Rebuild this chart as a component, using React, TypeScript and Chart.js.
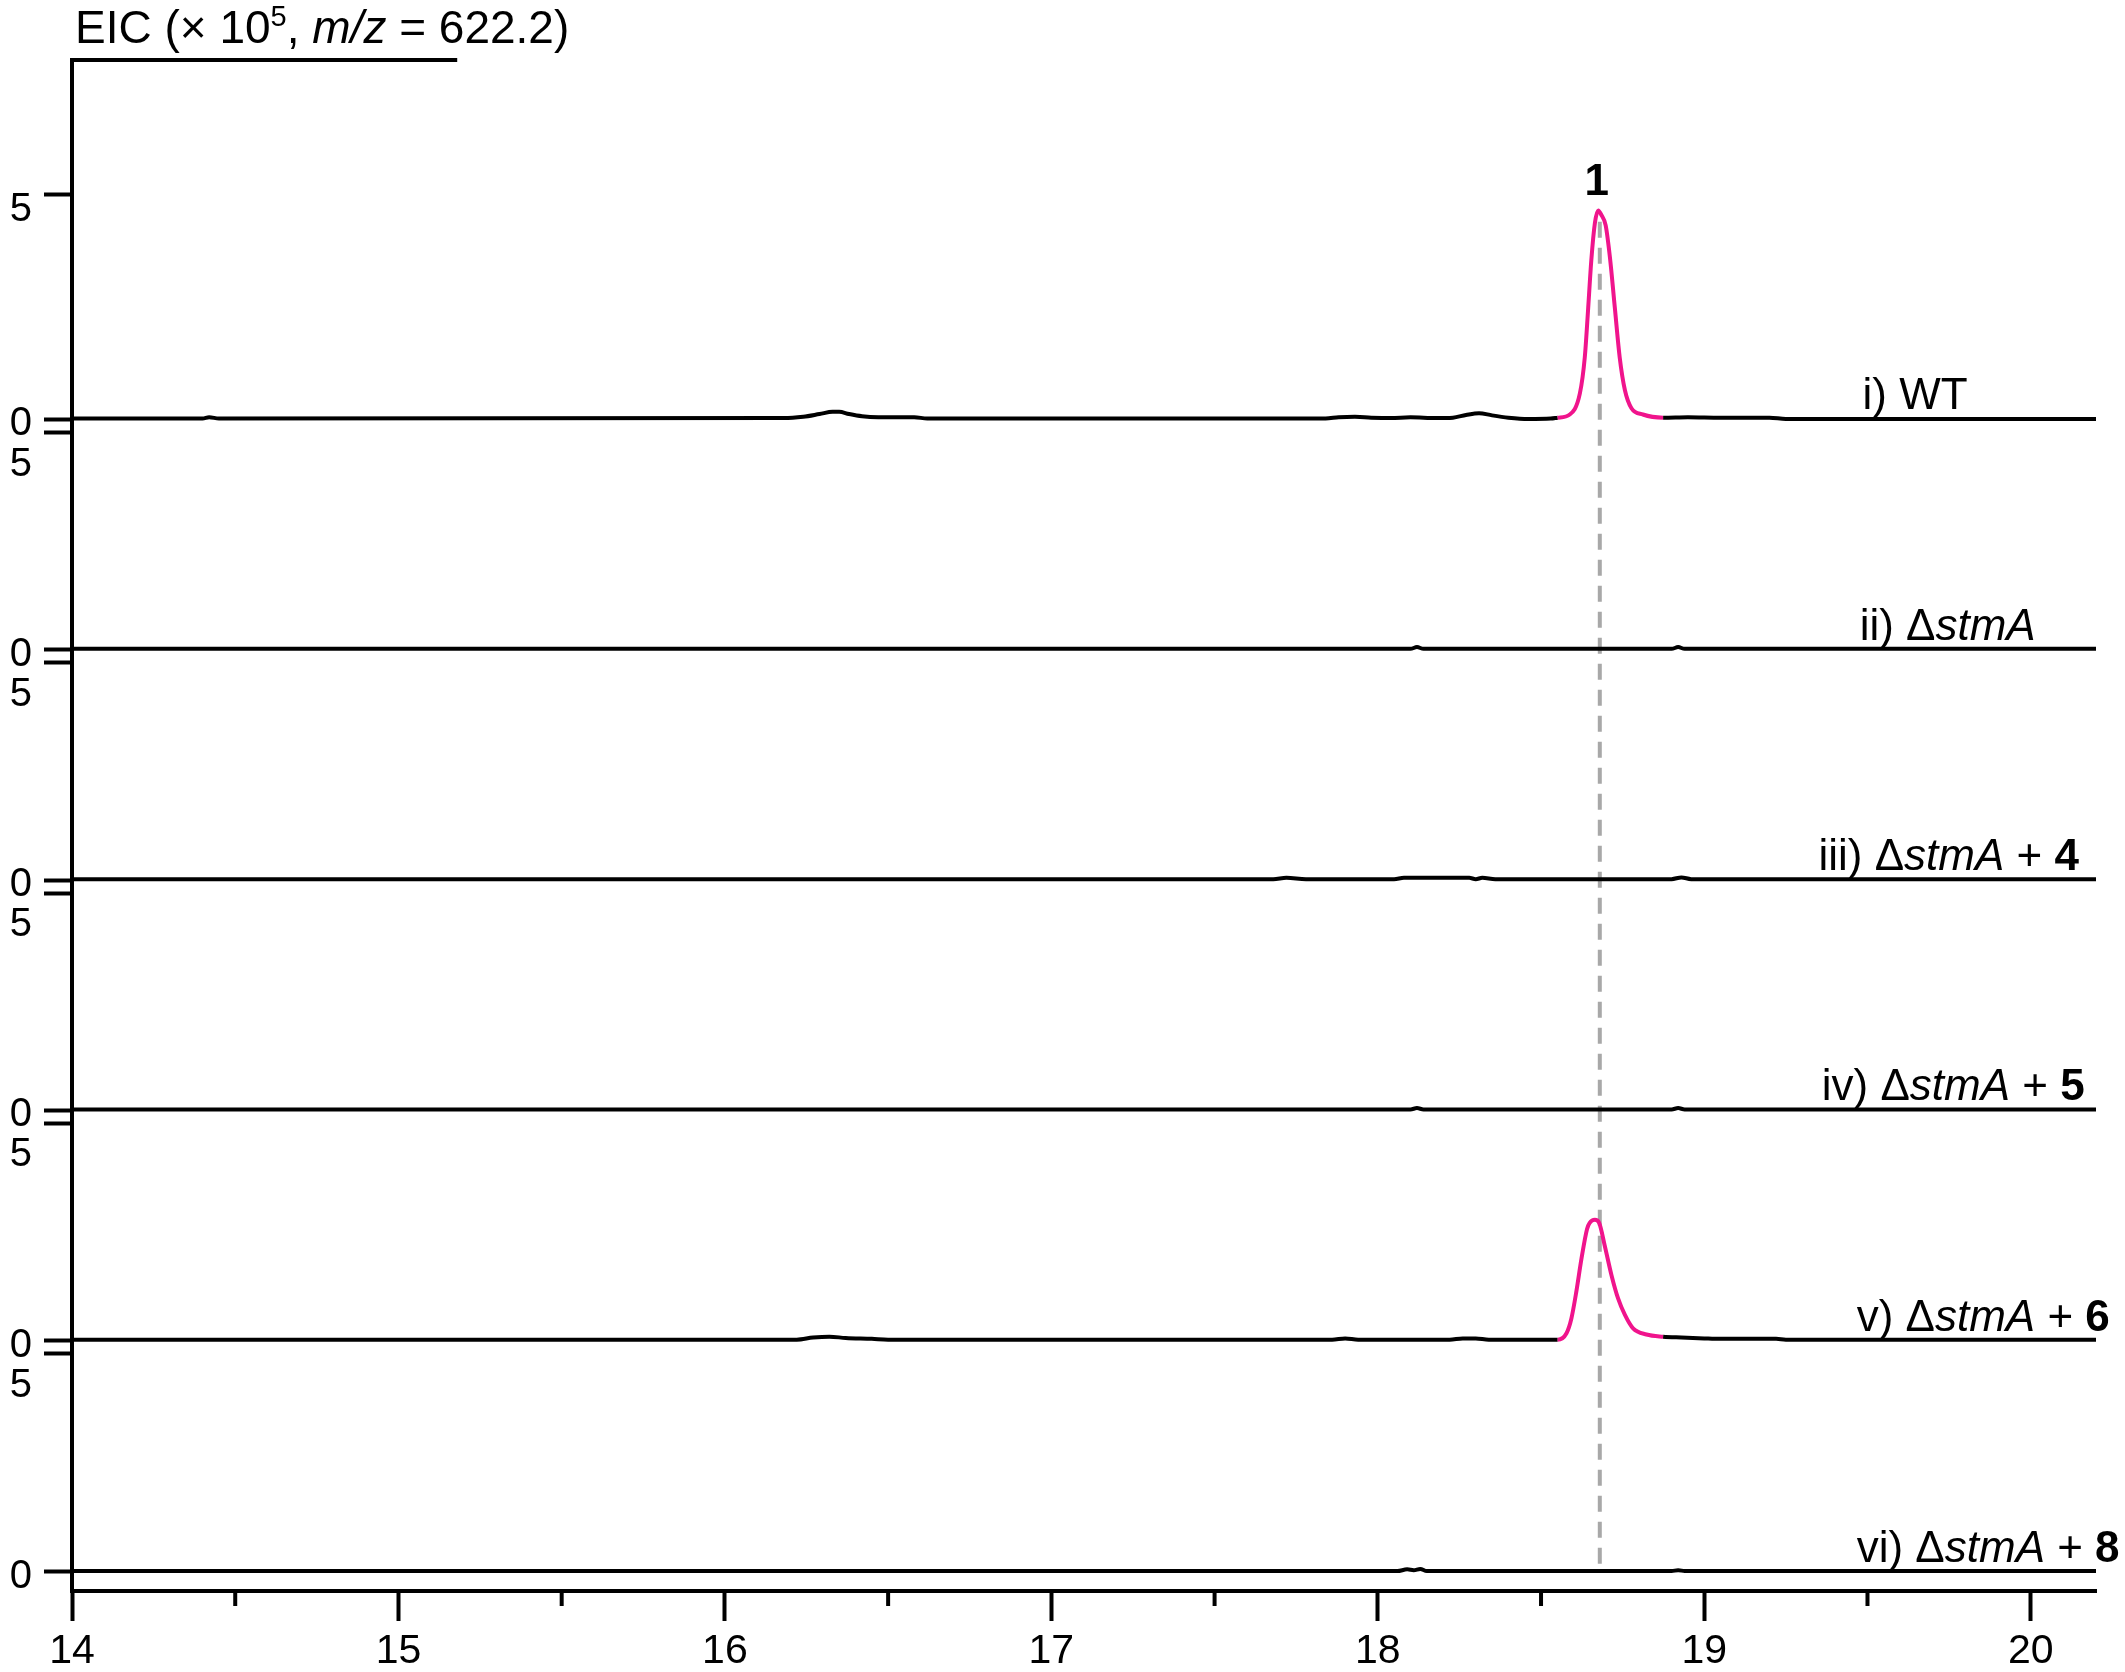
import React, { useEffect, useRef } from 'react';
import { Chart, registerables } from 'chart.js';

Chart.register(...registerables);

const FONT = '"Liberation Sans", Arial, Helvetica, sans-serif';
const PINK = '#F0148C';

// ---- axis values ----
const xMin = 14;
const xMax = 20.2;
const xMajorTicks = [14, 15, 16, 17, 18, 19, 20];
const xMinorTicks = [14.5, 15.5, 16.5, 17.5, 18.5, 19.5];
const yTickValues = [0, 5];

// ---- trace i) WT ----
const wtTime = [14.0, 14.4, 14.42, 14.45, 16.18, 16.24, 16.29, 16.33, 16.35, 16.38, 16.42, 16.47, 16.58, 16.62, 17.84, 17.88, 17.93, 17.98, 18.04, 18.1, 18.18, 18.23, 18.27, 18.31, 18.35, 18.4, 18.46, 18.53, 18.551, 18.588, 18.619, 18.634, 18.644, 18.654, 18.665, 18.675, 18.685, 18.698, 18.711, 18.726, 18.741, 18.757, 18.777, 18.812, 18.874, 18.95, 19.05, 19.2, 19.25, 20.2];
const wtIntensity = [0.02, 0.02, 0.05, 0.02, 0.03, 0.06, 0.12, 0.17, 0.17, 0.12, 0.07, 0.05, 0.05, 0.02, 0.02, 0.05, 0.06, 0.04, 0.03, 0.05, 0.03, 0.04, 0.1, 0.14, 0.09, 0.04, 0.01, 0.02, 0.04, 0.11, 0.58, 1.38, 2.43, 3.54, 4.37, 4.65, 4.55, 4.32, 3.61, 2.49, 1.38, 0.65, 0.25, 0.11, 0.04, 0.05, 0.04, 0.04, 0.01, 0.01];

// ---- trace ii) ΔstmA ----
const stmATime = [14.0, 18.1, 18.12, 18.14, 18.9, 18.92, 18.94, 20.2];
const stmAIntensity = [0.02, 0.02, 0.06, 0.02, 0.02, 0.06, 0.02, 0.02];

// ---- trace iii) ΔstmA + 4 ----
const plus4Time = [14.0, 17.68, 17.72, 17.78, 18.05, 18.08, 18.28, 18.3, 18.32, 18.36, 18.9, 18.93, 18.96, 20.2];
const plus4Intensity = [0.02, 0.02, 0.05, 0.02, 0.02, 0.05, 0.05, 0.02, 0.05, 0.02, 0.02, 0.06, 0.02, 0.02];

// ---- trace iv) ΔstmA + 5 ----
const plus5Time = [14.0, 18.1, 18.12, 18.14, 18.9, 18.92, 18.94, 20.2];
const plus5Intensity = [0.02, 0.02, 0.05, 0.02, 0.02, 0.05, 0.02, 0.02];

// ---- trace v) ΔstmA + 6 ----
const plus6Time = [14.0, 16.22, 16.27, 16.32, 16.37, 16.45, 16.5, 17.86, 17.9, 17.94, 18.22, 18.26, 18.3, 18.34, 18.551, 18.578, 18.593, 18.608, 18.624, 18.641, 18.649, 18.665, 18.678, 18.695, 18.716, 18.736, 18.757, 18.782, 18.823, 18.874, 18.93, 19.0, 19.05, 19.22, 19.25, 20.2];
const plus6Intensity = [0.02, 0.02, 0.07, 0.09, 0.06, 0.04, 0.02, 0.02, 0.05, 0.02, 0.02, 0.05, 0.05, 0.02, 0.02, 0.17, 0.51, 1.12, 1.89, 2.57, 2.71, 2.78, 2.71, 2.19, 1.5, 0.97, 0.59, 0.28, 0.14, 0.09, 0.07, 0.05, 0.04, 0.04, 0.02, 0.02];

// ---- trace vi) ΔstmA + 8 ----
const plus8Time = [14.0, 18.06, 18.09, 18.11, 18.13, 18.15, 18.9, 18.92, 18.94, 20.2];
const plus8Intensity = [0.02, 0.02, 0.06, 0.04, 0.07, 0.02, 0.02, 0.04, 0.02, 0.02];

// ---- labels ----
const labelPrefix = ['i) WT', 'ii) ', 'iii) ', 'iv) ', 'v) ', 'vi) '];
const labelStrain = ['', 'stmA', 'stmA', 'stmA', 'stmA', 'stmA'];
const labelCompound = ['', '', '4', '5', '6', '8'];
const peakLabel = '1';
const peakRetentionTime = 18.68;
const pinkRanges: (number[] | null)[] = [[18.55, 18.875], null, null, null, [18.55, 18.875], null];

// layout (not data)
const traceTimes = [wtTime, stmATime, plus4Time, plus5Time, plus6Time, plus8Time];
const traceValues = [wtIntensity, stmAIntensity, plus4Intensity, plus5Intensity, plus6Intensity, plus8Intensity];
const axisIds = ['yi', 'yii', 'yiii', 'yiv', 'yv', 'yvi'];
const panelMin = [-0.145, -0.15, -0.15, -0.15, -0.15, -0.436];
const panelMax = [8.0, 5.15, 5.15, 5.15, 5.15, 5.15];
const panelWeight = [365.5, 230, 230, 230, 230, 243.6];
const labelStartTime = [19.485, 19.476, 19.35, 19.36, 19.467, 19.467];
const LABEL_SIZE = 44;

function makeYAxis(i: number) {
  const top = i === 0;
  return {
    type: 'linear',
    position: 'left',
    stack: 'eic',
    stackWeight: panelWeight[i],
    min: panelMin[i],
    max: panelMax[i],
    afterBuildTicks: (s: any) => {
      s.ticks = yTickValues.map((v) => ({ value: v }));
    },
    afterFit: (s: any) => {
      s.width = 72;
    },
    border: { display: true, color: '#000', width: 4 },
    grid: { drawOnChartArea: false, drawTicks: true, tickLength: 28, tickWidth: 4, tickColor: '#000' },
    ticks: {
      color: '#000',
      padding: 12,
      autoSkip: false,
      labelOffset: 5,
      font: (ctx: any) => ({
        family: FONT,
        size: 40,
        lineHeight: ctx.tick && ctx.tick.value === 5 ? (top ? '20px' : '27px') : 1.2,
      }),
      callback: (v: any) => (v === 5 ? (top ? ['', '5'] : ['', '', '5']) : String(v)),
    },
  };
}

const decorPlugin = {
  id: 'decor',
  beforeDatasetsDraw(chart: any) {
    const ctx = chart.ctx;
    const xs = chart.scales.x;
    const px = xs.getPixelForValue(peakRetentionTime);
    const top = chart.scales.yi.getPixelForValue(4.4);
    const bottom = chart.scales.yvi.getPixelForValue(-0.02);
    ctx.save();
    ctx.strokeStyle = '#A8A8A8';
    ctx.lineWidth = 4;
    ctx.setLineDash([16, 10]);
    ctx.beginPath();
    ctx.moveTo(px, top);
    ctx.lineTo(px, bottom);
    ctx.stroke();
    ctx.restore();
  },
  afterDraw(chart: any) {
    const ctx = chart.ctx;
    const xs = chart.scales.x;
    const area = chart.chartArea;
    ctx.save();
    // minor x ticks
    ctx.strokeStyle = '#000';
    ctx.lineWidth = 4;
    xMinorTicks.forEach((v) => {
      const p = xs.getPixelForValue(v);
      ctx.beginPath();
      ctx.moveTo(p, area.bottom);
      ctx.lineTo(p, area.bottom + 15);
      ctx.stroke();
    });
    // top bar
    ctx.beginPath();
    ctx.moveTo(area.left - 2, area.top);
    ctx.lineTo(xs.getPixelForValue(15.18), area.top);
    ctx.stroke();

    // title
    ctx.fillStyle = '#000';
    ctx.textBaseline = 'alphabetic';
    ctx.textAlign = 'left';
    let x = area.left + 3;
    const by = area.top - 17;
    const parts: [string, string, number][] = [
      ['EIC (\u00d7 10', `46px ${FONT}`, 0],
      ['5', `29px ${FONT}`, -17],
      [', ', `46px ${FONT}`, 0],
      ['m/z', `italic 46px ${FONT}`, 0],
      [' = 622.2)', `46px ${FONT}`, 0],
    ];
    parts.forEach(([t, f, dy]) => {
      ctx.font = f;
      ctx.fillText(t, x, by + dy);
      x += ctx.measureText(t).width;
    });

    // peak label
    const yi = chart.scales.yi;
    const apex = Math.max(...wtIntensity);
    ctx.font = `bold 44px ${FONT}`;
    ctx.textAlign = 'center';
    ctx.fillText(peakLabel, xs.getPixelForValue(peakRetentionTime) - 3, yi.getPixelForValue(apex) - 16);

    // trace labels
    ctx.textAlign = 'left';
    axisIds.forEach((id, i) => {
      const ys = chart.scales[id];
      const y = ys.getPixelForValue(0) - 10;
      let lx = xs.getPixelForValue(labelStartTime[i]);
      const n = `${LABEL_SIZE}px ${FONT}`;
      const segs: [string, string][] = [[labelPrefix[i], n]];
      if (labelStrain[i]) {
        segs.push(['\u0394', n]);
        segs.push([labelStrain[i], `italic ${n}`]);
      }
      if (labelCompound[i]) {
        segs.push([' + ', n]);
        segs.push([labelCompound[i], `bold ${n}`]);
      }
      segs.forEach(([t, f]) => {
        ctx.font = f;
        ctx.fillText(t, lx, y);
        lx += ctx.measureText(t).width;
      });
    });
    ctx.restore();
  },
};

export default function App() {
  const ref = useRef<HTMLCanvasElement | null>(null);
  useEffect(() => {
    if (!ref.current) return;
    const datasets = traceTimes.map((times, i) => ({
      label: axisIds[i],
      data: times.map((t, k) => ({ x: t, y: traceValues[i][k] })),
      yAxisID: axisIds[i],
      xAxisID: 'x',
      borderColor: '#000',
      borderWidth: 4,
      pointRadius: 0,
      fill: false,
      tension: 0.3,
      cubicInterpolationMode: 'monotone',
      segment: {
        borderColor: (ctx: any) => {
          const r = pinkRanges[i];
          if (r && ctx.p0.parsed.x >= r[0] - 1e-6 && ctx.p1.parsed.x <= r[1] + 1e-6) return PINK;
          return '#000';
        },
      },
    }));
    const scales: any = {
      x: {
        type: 'linear',
        position: 'bottom',
        min: xMin,
        max: xMax,
        afterBuildTicks: (s: any) => {
          s.ticks = xMajorTicks.map((v) => ({ value: v }));
        },
        afterFit: (s: any) => {
          s.height = 81;
        },
        border: { display: true, color: '#000', width: 4 },
        grid: { drawOnChartArea: false, drawTicks: true, tickLength: 30, tickWidth: 4, tickColor: '#000' },
        ticks: {
          color: '#000',
          padding: 6,
          autoSkip: false,
          maxRotation: 0,
          font: { family: FONT, size: 41 },
          callback: (v: any) => String(v),
        },
      },
    };
    // last added is placed on top of the stack
    for (let i = axisIds.length - 1; i >= 0; i--) {
      scales[axisIds[i]] = makeYAxis(i);
    }
    const chart = new Chart(ref.current, {
      type: 'line',
      data: { datasets } as any,
      options: {
        responsive: false,
        animation: false,
        devicePixelRatio: 1,
        layout: { padding: { left: 0, top: 60, right: 29, bottom: 0 } },
        plugins: { legend: { display: false }, tooltip: { enabled: false }, title: { display: false } },
        scales,
      } as any,
      plugins: [decorPlugin],
    });
    return () => chart.destroy();
  }, []);
  return (
    <div style={{ position: 'absolute', left: 0, top: 0, width: 2125, height: 1672, background: '#fff' }}>
      <canvas ref={ref} width={2125} height={1672} style={{ display: 'block' }} />
    </div>
  );
}
